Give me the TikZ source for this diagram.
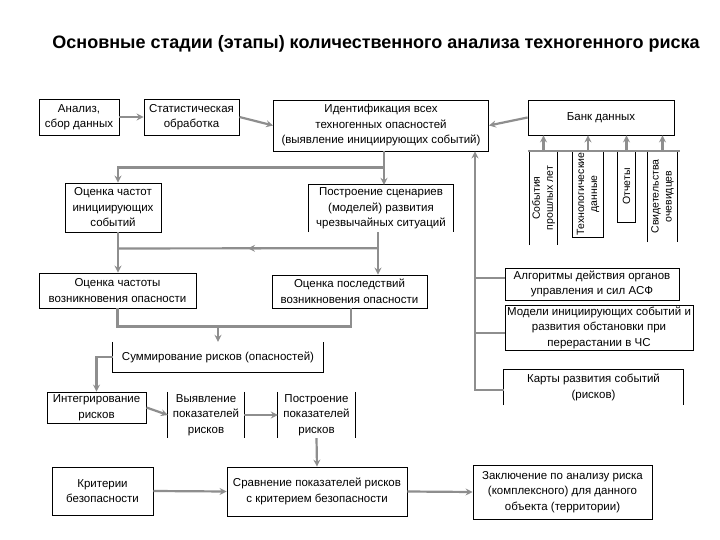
\documentclass[tikz,border=0pt]{standalone}
\usepackage{fontspec}
\setmainfont{Liberation Sans}
\usetikzlibrary{arrows.meta,calc}
\definecolor{ln}{HTML}{8E8E8E}
\begin{document}
\begin{tikzpicture}[x=1pt,y=-1pt,
  every node/.style={font=\fontsize{11.5}{15.5}\selectfont},
  box/.style={draw=black, line width=0.9pt, fill=white, align=center, inner sep=0pt},
  obox/.style={draw=none, align=center, inner sep=0pt},
  vbox/.style={obox, rotate=90, font=\fontsize{10.5}{13}\selectfont},
  edge/.style={draw=black, line width=0.9pt},
  conn/.style={draw=ln, line width=2.2pt},
  arr/.style={conn, -{Stealth[length=7pt,width=7pt,inset=2.5pt]}},
  ttl/.style={font=\fontsize{18}{21}\selectfont\bfseries}]
\fill[white] (0,0) rectangle (720,540);
\useasboundingbox (0,0) rectangle (720,540);

\node[ttl] (title) at (376,44) {Основные стадии (этапы) количественного анализа техногенного риска};

% top row
\node[box, minimum width=80pt, minimum height=36pt] (an) at (79,117) {Анализ,\\сбор данных};
\node[box, minimum width=95pt, minimum height=36pt] (st) at (191.5,117) {Статистическая\\обработка};
\node[box, minimum width=215pt, minimum height=51pt] (id) at (381,125.5) {Идентификация всех\\техногенных опасностей\\(выявление инициирующих событий)};
\node[box, minimum width=146pt, minimum height=35pt] (bank) at (601,117.5) {Банк данных};

% vertical source boxes
\node[vbox, minimum width=94pt, minimum height=27pt] (v1) at (543.5,198) {События\\прошлых лет};
\node[vbox, minimum width=86pt, minimum height=30pt] (v2) at (588,194) {Технологические\\данные};
\node[vbox, minimum width=71pt, minimum height=17pt] (v3) at (626.5,186.5) {Отчеты};
\node[vbox, minimum width=91pt, minimum height=29pt] (v4) at (662.5,196.5) {Свидетельства\\очевидцев};
\draw[edge] (v1.north west) -- (v1.north east) -- (v1.south east) -- (v1.south west);
\draw[edge] (v2.north west) rectangle (v2.south east);
\draw[edge] (v3.north west) rectangle (v3.south east);
\draw[edge] (v4.north west) -- (v4.north east) -- (v4.south east) -- (v4.south west);

% second row
\node[box, minimum width=96pt, minimum height=49pt] (of) at (113,207.5) {Оценка частот\\инициирующих\\событий};
\node[obox, minimum width=145pt, minimum height=47pt] (ps) at (381,208.5) {Построение сценариев\\(моделей) развития\\чрезвычайных ситуаций};
\draw[edge] (ps.south west) -- (ps.north west) -- (ps.north east) -- (ps.south east);

% third row
\node[box, minimum width=157pt, minimum height=35pt] (ofv) at (117.5,290.5) {Оценка частоты\\возникновения опасности};
\node[box, minimum width=155pt, minimum height=33pt] (op) at (349.5,291.5) {Оценка последствий\\возникновения опасности};

\node[obox, minimum width=210pt, minimum height=30pt] (sum) at (218,357) {Суммирование рисков (опасностей)};
\draw[edge] (sum.north west) -- (sum.south west) -- (sum.south east) -- (sum.north east);

% right column
\node[box, minimum width=174pt, minimum height=32pt] (alg) at (592,284) {Алгоритмы действия органов\\управления и сил АСФ};
\node[box, minimum width=188pt, minimum height=45pt] (mod) at (599,327.5) {Модели инициирующих событий и\\развития обстановки при\\перерастании в ЧС};
\node[obox, minimum width=179pt, minimum height=35pt] (kar) at (593.5,387.5) {Карты развития событий\\(рисков)};
\draw[edge] (kar.south west) -- (kar.north west) -- (kar.north east) -- (kar.south east);

% fourth row
\node[box, minimum width=99pt, minimum height=31pt] (int) at (96.5,407.5) {Интегрирование\\рисков};
\node[obox, minimum width=76pt, minimum height=46pt] (vyy) at (206,415) {Выявление\\показателей\\рисков};
\draw[edge] (vyy.north west) -- (vyy.south west);
\draw[edge] (vyy.north east) -- (vyy.south east);
\node[obox, minimum width=77pt, minimum height=46pt] (pp) at (316.5,415) {Построение\\показателей\\рисков};
\draw[edge] (pp.north west) -- (pp.south west);
\draw[edge] (pp.north east) -- (pp.south east);

% bottom row
\node[box, minimum width=101pt, minimum height=48pt] (kr) at (102.5,491) {Критерии\\безопасности};
\node[box, minimum width=180pt, minimum height=49pt] (sr) at (317,491.5) {Сравнение показателей рисков\\с критерием безопасности};
\node[box, minimum width=179pt, minimum height=54pt] (zak) at (562.5,492) {Заключение по анализу риска\\(комплексного) для данного\\объекта (территории)};

% connectors top row
\draw[arr] (an.east) -- (st.west);
\draw[arr] (st.east) -- (id.west);
\draw[arr] (bank.west) -- (id.east);
\draw[conn] ([xshift=-2pt]v1.north east) -- ([xshift=3pt]v4.south east);
\draw[arr] (v1.east) -- (v1.east |- bank.south);
\draw[arr] (v2.east) -- (v2.east |- bank.south);
\draw[arr] (v3.east) -- (v3.east |- bank.south);
\draw[arr] (v4.east) -- (v4.east |- bank.south);

% identification down
\draw[arr] ([xshift=3pt]id.south) -- ([xshift=3pt]ps.north);
\path ([xshift=3pt]id.south) ++(0,16) coordinate (h0);
\draw[arr] (h0) -| ([xshift=5pt]of.north);

% second to third row
\draw[arr] ([xshift=5pt]of.south) -- ([xshift=5pt]of.south |- ofv.north);
\draw[arr] ([xshift=-3pt]ps.south) -- ([xshift=-3pt]ps.south |- op.north);
\path ([xshift=-3pt]ps.south) ++(0,16) coordinate (h1);
\path ([xshift=5pt]of.south) ++(0,16) coordinate (h2);
\draw[arr] (h1) -- ($(h1)!0.5!(h2)$);
\draw[conn] ($(h1)!0.45!(h2)$) -- (h2);

% third row to sum
\draw[conn] (ofv.south) -- ++(0,18) coordinate (h3) -| ([xshift=1.5pt]op.south);
\draw[arr] (h3 -| sum.north) -- (sum.north);
\draw[arr] (sum.west) -| (int.north);

% right column
\path (id.south) ++(94,0) coordinate (rv);
\draw[arr] ([yshift=-2.5pt]kar.west) -| (rv);
\draw[conn] ([yshift=6pt]alg.west) -- ([yshift=6pt]alg.west -| rv);
\draw[conn] ([yshift=-5.5pt]mod.west) -- ([yshift=-5.5pt]mod.west -| rv);

% fourth row
\draw[arr] (int.east) -- (vyy.west);
\draw[arr] (vyy.east) -- (pp.west);
\draw[arr] (pp.south) -- (sr.north);

% bottom
\draw[arr] (kr.east) -- (sr.west);
\draw[arr] (sr.east) -- (zak.west);
\end{tikzpicture}
\end{document}
